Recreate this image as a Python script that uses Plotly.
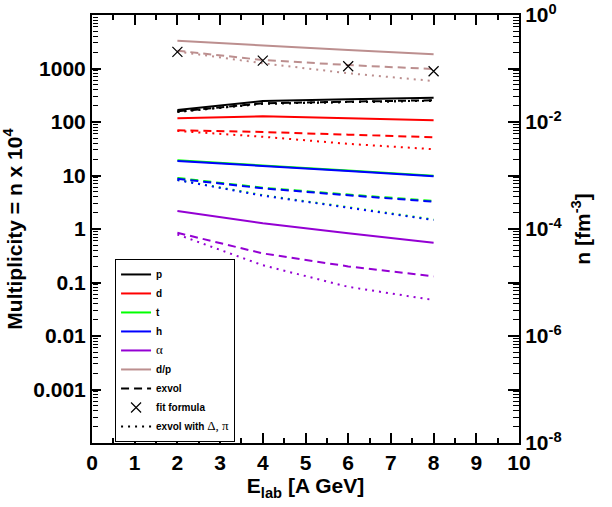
import plotly.graph_objects as go

E = [2, 4, 6, 8]

# multiplicity values (n x 1e4)
p_full = [167, 247, 266, 284]
p_exvol = [158, 224, 240, 255]
p_exvol_dpi = [155, 220, 236, 250]
d_full = [117, 128, 117, 108]
d_exvol = [70, 65, 58, 52]
d_exvol_dpi = [68, 53, 39, 31]
t_full = [19.2, 15.6, 12.4, 9.9]
t_exvol = [9.0, 5.9, 4.4, 3.35]
t_exvol_dpi = [8.3, 4.3, 2.55, 1.5]
h_full = [18.7, 15.2, 12.1, 9.7]
h_exvol = [8.7, 5.76, 4.26, 3.24]
h_exvol_dpi = [8.2, 4.2, 2.5, 1.47]
a_full = [2.17, 1.28, 0.83, 0.555]
a_exvol = [0.85, 0.35, 0.2, 0.13]
a_exvol_dpi = [0.79, 0.21, 0.083, 0.047]
dp_full = [3300, 2670, 2220, 1840]
dp_exvol = [2150, 1440, 1160, 977]
dp_exvol_dpi = [2080, 1250, 815, 583]
fit_formula = [2050, 1400, 1100, 890]

species = [
    ("p", "#000000", p_full, p_exvol, p_exvol_dpi),
    ("d", "#FF0000", d_full, d_exvol, d_exvol_dpi),
    ("t", "#00FF00", t_full, t_exvol, t_exvol_dpi),
    ("h", "#0000FF", h_full, h_exvol, h_exvol_dpi),
    ("α", "#9400D3", a_full, a_exvol, a_exvol_dpi),
    ("d/p", "#BC8F8F", dp_full, dp_exvol, dp_exvol_dpi),
]

left_ticks = [1e-3, 1e-2, 1e-1, 1, 10, 100, 1000]
left_labels = ["0.001", "0.01", "0.1", "1", "10", "100", "1000"]
right_ticks = [1e-8, 1e-6, 1e-4, 1e-2, 1.0]
right_labels = ["10<sup>-8</sup>", "10<sup>-6</sup>", "10<sup>-4</sup>",
                "10<sup>-2</sup>", "10<sup>0</sup>"]
right_odd_ticks = [1e-7, 1e-5, 1e-3, 1e-1]
SCALE = 1e-4  # n [fm^-3] = multiplicity x 1e-4

DASH = "8px,5px"
DOT = "2px,5px"


def minor_vals(lo, hi):
    v = []
    for k in range(lo, hi):
        for m in range(2, 10):
            v.append(m * 10.0**k)
    return v


fig = go.Figure()

for name, col, full, ex, exdpi in species:
    label = ("<span style='font-family:Liberation Serif;font-size:13px'>α</span>"
             if name == "α" else f"<b>{name}</b>")
    # dotted: multiplicity on left axis
    fig.add_trace(go.Scatter(x=E, y=exdpi, mode="lines", showlegend=False,
                             line=dict(color=col, width=2, dash=DOT)))
    # dashed: density on right overlay axis
    fig.add_trace(go.Scatter(x=E, y=[v * SCALE for v in ex], mode="lines", showlegend=False,
                             yaxis="y4", line=dict(color=col, width=2, dash=DASH)))
    # solid: density on right axis
    fig.add_trace(go.Scatter(x=E, y=[v * SCALE for v in full], mode="lines", name=label,
                             yaxis="y2", line=dict(color=col, width=2)))

fig.add_trace(go.Scatter(x=[None], y=[None], mode="lines", name="<b>exvol</b>",
                         line=dict(color="black", width=2, dash=DASH)))
fig.add_trace(go.Scatter(x=E, y=[v * SCALE for v in fit_formula], mode="markers",
                         name="<b>fit formula</b>", yaxis="y5",
                         marker=dict(symbol="x-thin-open", size=10, color="black",
                                     line=dict(color="black", width=1.2))))
fig.add_trace(go.Scatter(x=[None], y=[None], mode="lines",
                         name="<b>exvol with </b><span style='font-family:Liberation Serif;font-size:13px'>Δ, π</span>",
                         line=dict(color="black", width=2, dash=DOT)))
# copy of the dotted p-curve on the left minor-tick axis (same scale as left axis)
fig.add_trace(go.Scatter(x=E, y=p_exvol_dpi, mode="lines", showlegend=False, yaxis="y3",
                         line=dict(color="#000000", width=2, dash=DOT), hoverinfo="skip"))

tickfont = dict(family="Liberation Sans", size=21, color="black")
common = dict(showgrid=False, zeroline=False, automargin=False, tickcolor="black")

fig.update_layout(
    width=612, height=507,
    margin=dict(l=92, r=93, t=15, b=64),
    paper_bgcolor="white", plot_bgcolor="white",
    font=dict(family="Liberation Sans", color="black"),
    xaxis=dict(range=[0, 10], tickmode="linear", tick0=0, dtick=1,
               ticks="inside", ticklen=10, tickwidth=1.5,
               minor=dict(ticks="inside", ticklen=5, tickwidth=1.5, tickcolor="black", dtick=0.5, showgrid=False),
               showline=True, linecolor="black", linewidth=2, mirror="ticks",
               tickfont=tickfont, tickprefix="<b>", ticksuffix="</b>",
               title=dict(text="<b>E<sub>lab</sub> [A GeV]</b>", font=dict(size=21), standoff=2),
               **common),
    yaxis=dict(type="log", range=[-4, 4], tickmode="array", tickvals=left_ticks,
               ticktext=[f"<b>{t}</b>" for t in left_labels],
               ticks="inside", ticklen=9, tickwidth=1.5,
               showline=True, linecolor="black", linewidth=2,
               tickfont=tickfont,
               title=dict(text="<b>Multiplicity = n x 10<sup>4</sup></b>", font=dict(size=21), standoff=6),
               **common),
    yaxis3=dict(type="log", range=[-4, 4], overlaying="y", anchor="free", position=0,
                side="left", tickmode="array", tickvals=minor_vals(-4, 4), showticklabels=False,
                ticks="inside", ticklen=5, tickwidth=1, showline=False, **common),
    yaxis2=dict(type="log", range=[-8, 0], overlaying="y", side="right",
                tickmode="array", tickvals=right_ticks,
                ticktext=[f"<b>{t}</b>" for t in right_labels],
                ticks="inside", ticklen=11, tickwidth=1.5,
                showline=True, linecolor="black", linewidth=2,
                tickfont=tickfont,
                title=dict(text="<b>n [fm<sup>-3</sup>]</b>", font=dict(size=21), standoff=14),
                **common),
    yaxis4=dict(type="log", range=[-8, 0], overlaying="y", side="right",
                tickmode="array", tickvals=right_odd_ticks, showticklabels=False,
                ticks="inside", ticklen=11, tickwidth=1.5, showline=False, **common),
    yaxis5=dict(type="log", range=[-8, 0], overlaying="y", side="right",
                tickmode="array", tickvals=minor_vals(-8, 0), showticklabels=False,
                ticks="inside", ticklen=6, tickwidth=1, showline=False, **common),
    legend=dict(x=0.054, y=0.43, xanchor="left", yanchor="top",
                bgcolor="white", bordercolor="black", borderwidth=1,
                font=dict(family="Liberation Sans", size=10, color="black"),
                tracegroupgap=0, itemwidth=30),
    showlegend=True,
)

fig.write_html("out.html", config={"displayModeBar": False},
               post_script="document.body.style.margin='0';document.body.style.padding='0';")
